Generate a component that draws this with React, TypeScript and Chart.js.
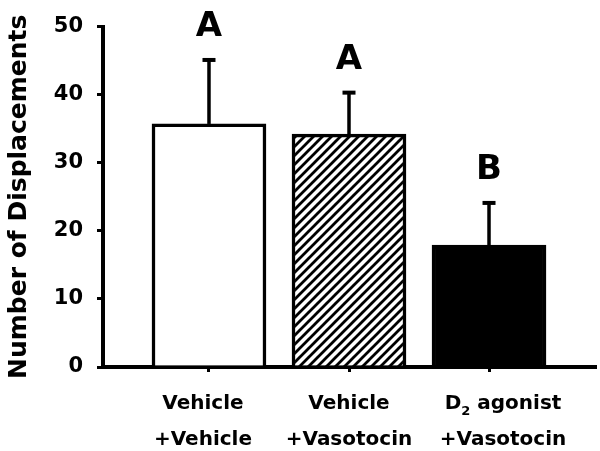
import React, { useEffect, useRef } from "react";
import { Chart, registerables } from "chart.js";

Chart.register(...registerables);

// ---- data ----
const categories: string[][] = [
  ["Vehicle", "+Vehicle"],
  ["Vehicle", "+Vasotocin"],
  ["D₂ agonist", "+Vasotocin"],
];
const means = [35.7, 34.2, 17.9];
const sems = [9.4, 6.1, 6.2];
const letters = ["A", "A", "B"];
const yTicks = [0, 10, 20, 30, 40, 50];
const yTitle = "Number of Displacements";

// ---- style ----
const FONT = '"DejaVu Sans", "Liberation Sans", Arial, sans-serif';
const labelShift = [-6, 0, 14];

function makeHatch(): CanvasPattern | string {
  const s = 9;
  const c = document.createElement("canvas");
  c.width = s;
  c.height = s;
  const g = c.getContext("2d");
  if (!g) return "#fff";
  g.fillStyle = "#fff";
  g.fillRect(0, 0, s, s);
  g.strokeStyle = "#000";
  g.lineWidth = 2.8;
  g.beginPath();
  g.moveTo(-2, s + 2);
  g.lineTo(s + 2, -2);
  g.moveTo(-2, 2);
  g.lineTo(2, -2);
  g.moveTo(s - 2, s + 2);
  g.lineTo(s + 2, s - 2);
  g.stroke();
  return g.createPattern(c, "repeat") || "#fff";
}

const SUB: Record<string, string> = {
  "₀": "0", "₁": "1", "₂": "2", "₃": "3", "₄": "4",
  "₅": "5", "₆": "6", "₇": "7", "₈": "8", "₉": "9",
};

function drawRichLine(ctx: CanvasRenderingContext2D, text: string, cx: number, baseY: number, size: number) {
  const segs: { t: string; sub: boolean }[] = [];
  for (const ch of text) {
    const sub = ch in SUB;
    const t = sub ? SUB[ch] : ch;
    const last = segs[segs.length - 1];
    if (last && last.sub === sub) last.t += t;
    else segs.push({ t, sub });
  }
  const subSize = Math.round(size * 0.65);
  let total = 0;
  const widths = segs.map((s) => {
    ctx.font = `bold ${s.sub ? subSize : size}px ${FONT}`;
    const w = ctx.measureText(s.t).width;
    total += w;
    return w;
  });
  let x = cx - total / 2;
  ctx.textAlign = "left";
  ctx.textBaseline = "alphabetic";
  segs.forEach((s, i) => {
    ctx.font = `bold ${s.sub ? subSize : size}px ${FONT}`;
    ctx.fillText(s.t, x, s.sub ? baseY + size * 0.28 : baseY);
    x += widths[i];
  });
}

const overlay = {
  id: "overlay",
  afterDatasetsDraw(chart: any) {
    const { ctx, scales, chartArea } = chart;
    const xs = scales.x;
    const ys = scales.y;
    ctx.save();
    ctx.fillStyle = "#000";
    ctx.strokeStyle = "#000";
    means.forEach((m, i) => {
      const px = xs.getPixelForValue(i);
      const base = ys.getPixelForValue(m);
      const top = ys.getPixelForValue(m + sems[i]);
      ctx.lineWidth = 3.5;
      ctx.lineCap = "butt";
      ctx.beginPath();
      ctx.moveTo(px, base);
      ctx.lineTo(px, top);
      ctx.stroke();
      ctx.lineWidth = 4;
      ctx.beginPath();
      ctx.moveTo(px - 6.5, top);
      ctx.lineTo(px + 6.5, top);
      ctx.stroke();
      ctx.font = `bold 34px ${FONT}`;
      ctx.textAlign = "center";
      ctx.textBaseline = "alphabetic";
      ctx.fillText(letters[i], px, top - 24);
      const lines = categories[i];
      lines.forEach((ln, k) => {
        drawRichLine(ctx, ln, px + labelShift[i], chartArea.bottom + 42 + k * 36, 20);
      });
    });
    ctx.restore();
  },
};

export default function App() {
  const ref = useRef<HTMLCanvasElement | null>(null);
  useEffect(() => {
    document.body.style.margin = "0";
    const canvas = ref.current;
    if (!canvas) return;
    const hatch = makeHatch();
    const chart = new Chart(canvas, {
      type: "bar",
      data: {
        datasets: [
          {
            data: means.map((y, i) => ({ x: i, y })),
            backgroundColor: ["#ffffff", hatch as any, "#000000"],
            borderColor: "#000",
            borderWidth: 3.5,
            barThickness: 114,
          },
        ],
      },
      options: {
        responsive: false,
        animation: false,
        devicePixelRatio: 1,
        layout: { padding: { top: 24, right: 5, left: 0, bottom: 0 } },
        plugins: { legend: { display: false }, tooltip: { enabled: false } },
        scales: {
          x: {
            type: "linear",
            offset: false,
            min: -0.757,
            max: 2.757,
            afterBuildTicks: (s: any) => {
              s.ticks = categories.map((_, i) => ({ value: i }));
            },
            afterFit: (s: any) => {
              s.height = 84;
            },
            ticks: { display: false },
            grid: {
              display: true,
              offset: false,
              drawOnChartArea: false,
              drawTicks: true,
              tickLength: 5,
              lineWidth: 3,
              color: "#000",
            },
            border: { display: true, color: "#000", width: 4 },
          },
          y: {
            type: "linear",
            min: 0,
            max: 50,
            afterBuildTicks: (s: any) => {
              s.ticks = yTicks.map((v) => ({ value: v }));
            },
            afterFit: (s: any) => {
              s.width = 103;
            },
            ticks: {
              color: "#000",
              font: { family: FONT, size: 21, weight: "bold" },
              padding: 14,
            },
            grid: {
              display: true,
              drawOnChartArea: false,
              drawTicks: true,
              tickLength: 6,
              lineWidth: 3,
              color: "#000",
            },
            border: { display: true, color: "#000", width: 4 },
            title: {
              display: true,
              text: yTitle,
              color: "#000",
              font: { family: FONT, size: 25, weight: "bold" },
              padding: { top: 4, bottom: 0 },
            },
          },
        },
      },
      plugins: [overlay],
    } as any);
    return () => chart.destroy();
  }, []);
  return <canvas ref={ref} width={600} height={451} style={{ display: "block" }} />;
}
